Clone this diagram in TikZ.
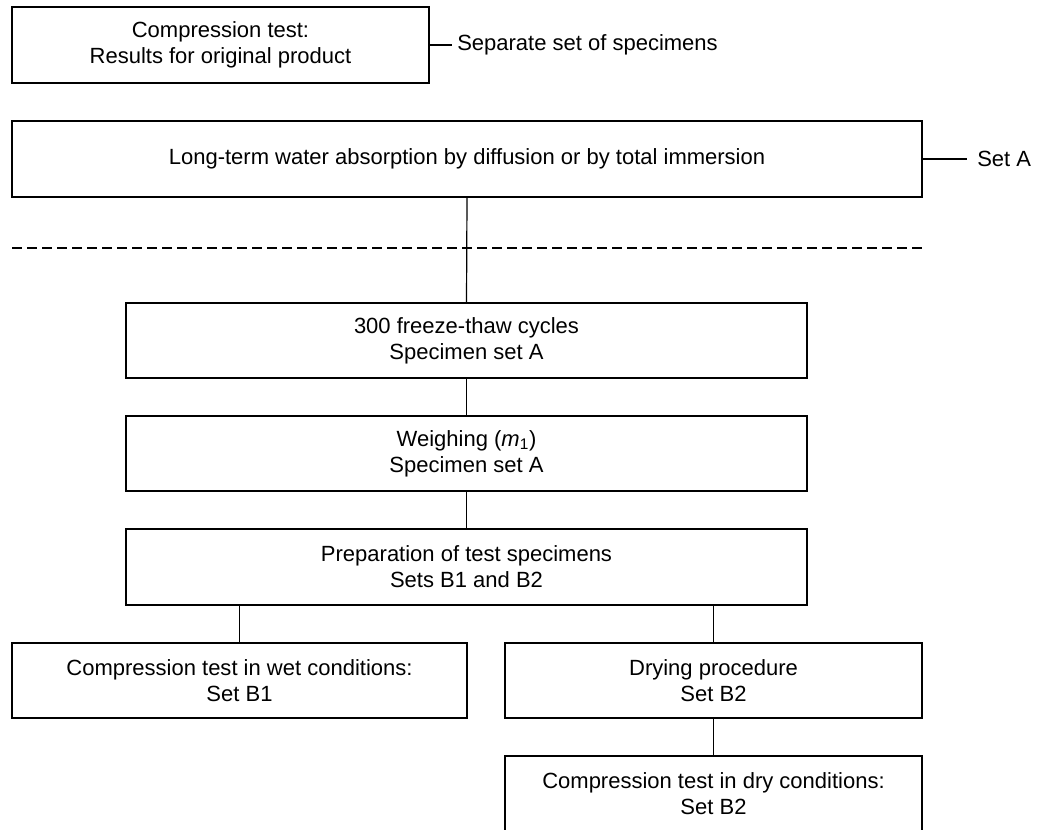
\documentclass[tikz,border=0pt]{standalone}
\usepackage{fontspec}
\setmainfont{Liberation Sans}
\begin{document}
\begin{tikzpicture}[x=0.75pt,y=-0.75pt,
  box/.style={draw=black, line width=1.5pt, rectangle, inner sep=0pt, align=center,
    font=\fontsize{16.5pt}{19.5pt}\selectfont},
  lbl/.style={inner sep=0pt, anchor=west, font=\fontsize{16.5pt}{19.5pt}\selectfont},
  conn/.style={draw=black, line width=0.9pt},
  dashline/.style={draw=black, line width=0.9pt, dash pattern=on 7.5pt off 3.75pt}]
\useasboundingbox (0,0) rectangle (1037,830);
% boxes
\node[box, minimum width=312.75pt, minimum height=57pt] (B1) at (220.5,45)
  {Compression test:\\Results for original product};
\node[box, minimum width=682.5pt, minimum height=57pt] (B2) at (467,159)
  {Long-term water absorption by diffusion or by total immersion};
\node[box, minimum width=510.75pt, minimum height=56.25pt] (B3) at (466.5,340.5)
  {300 freeze-thaw cycles\\Specimen set A};
\node[box, minimum width=510.75pt, minimum height=56.25pt] (B4) at (466.5,453.5)
  {Weighing (\textit{m}\textsubscript{1})\\Specimen set A};
\node[box, minimum width=510.75pt, minimum height=57pt] (B5) at (466.5,567)
  {Preparation of test specimens\\Sets B1 and B2};
\node[box, minimum width=341.25pt, minimum height=56.25pt] (B6) at (239.5,680.5)
  {Compression test in wet conditions:\\Set B1};
\node[box, minimum width=312.75pt, minimum height=56.25pt] (B7) at (713.5,680.5)
  {Drying procedure\\Set B2};
\node[box, minimum width=312.75pt, minimum height=57pt] (B8) at (713.5,794)
  {Compression test in dry conditions:\\Set B2};
% side labels
\node[lbl] (L1) at (457,45) {Separate set of specimens};
\node[lbl] (L2) at (977,159) {Set A};
\draw[conn] (B1.east) -- ([xshift=-3.75pt]L1.west);
\draw[conn] (B2.east) -- ([xshift=-7.5pt]L2.west);
% dashed separator
\coordinate (DL) at (12,248);
\coordinate (DR) at (922,248);
\draw[dashline] (DL) -- (DR);
% connectors
\draw[conn] (B2.south) -- (B3.north);
\draw[conn] (B3.south) -- (B4.north);
\draw[conn] (B4.south) -- (B5.north);
\draw[conn] (B6.north) -- (B6.north |- B5.south);
\draw[conn] (B7.north) -- (B7.north |- B5.south);
\draw[conn] (B7.south) -- (B8.north);
\end{tikzpicture}
\end{document}
